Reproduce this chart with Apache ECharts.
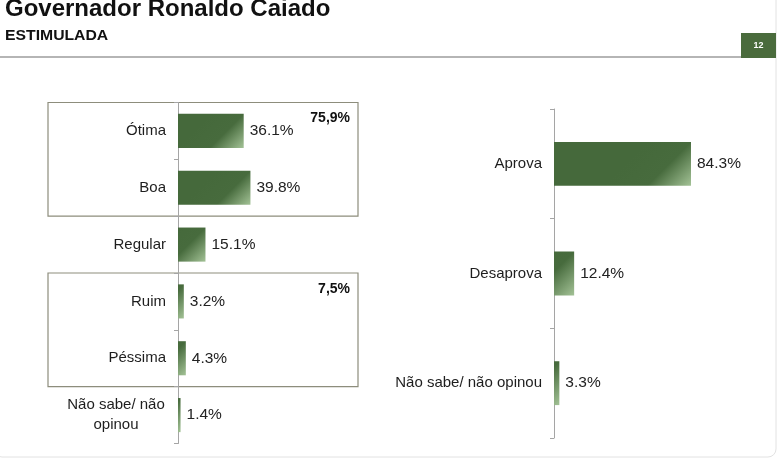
<!DOCTYPE html>
<html><head><meta charset="utf-8">
<script src="https://cdn.jsdelivr.net/npm/echarts@6/dist/echarts.min.js"></script>
<style>html,body{margin:0;padding:0;background:#fff}#c{width:779px;height:463px}</style>
</head><body><div id="c"></div>
<script>
// ---- data ----
var titleText = 'Governador Ronaldo Caiado';
var subtitleText = 'ESTIMULADA';
var pageNumber = '12';
var leftCategories = ['Ótima', 'Boa', 'Regular', 'Ruim', 'Péssima', 'Não sabe/ não\nopinou'];
var leftValues = [36.1, 39.8, 15.1, 3.2, 4.3, 1.4];
var rightCategories = ['Aprova', 'Desaprova', 'Não sabe/ não opinou'];
var rightValues = [84.3, 12.4, 3.3];
var groupRanges = [[0, 1], [3, 4]];
var groupLabels = ['75,9%', '7,5%'];

// ---- layout ----
var L = {left: 178, top: 102.5, height: 341, width: 182, gap: 0.4};
var R = {left: 554, top: 109, height: 329, width: 162.5, gap: 0.6};
var FONT = '"Liberation Sans", Arial, sans-serif';

// 45-degree (pixel space) gradient lighting the bottom-right corner of each bar
function barColor(v, G, n) {
  var w = Math.max(v / 100 * G.width, 1);
  var h = G.height / n * (1 - G.gap);
  var k = h / w;
  return new echarts.graphic.LinearGradient(1 - k, 0, 1, 1, [
    {offset: 0, color: '#45693b'},
    {offset: 0.5, color: '#476b3d'},
    {offset: 1, color: '#a3c296'}
  ]);
}

function catAxis(idx, cats) {
  return {
    type: 'category', gridIndex: idx, data: cats, inverse: true,
    axisLine: {show: true, lineStyle: {color: '#a5a5a5', width: 1}},
    axisTick: {show: true, length: 4, lineStyle: {color: '#a5a5a5'}},
    axisLabel: {
      margin: 12, fontSize: 15, color: '#1e1e1e', fontFamily: FONT, lineHeight: 20,
      formatter: function (v) {
        if (v.indexOf('\n') >= 0) {
          return v.split('\n').map(function (s) { return '{c|' + s + '}'; }).join('\n');
        }
        return v;
      },
      rich: {c: {width: 100, align: 'center', fontSize: 15, color: '#1e1e1e', fontFamily: FONT, lineHeight: 20}}
    }
  };
}
function valAxis(idx) {
  return {
    type: 'value', gridIndex: idx, min: 0, max: 100,
    show: false, splitLine: {show: false}
  };
}
function barSeries(idx, vals, G, n) {
  return {
    type: 'bar', xAxisIndex: idx, yAxisIndex: idx,
    data: vals.map(function (v) { return {value: v, itemStyle: {color: barColor(v, G, n)}}; }),
    barCategoryGap: (G.gap * 100) + '%',
    label: {
      show: true, position: 'right', distance: 6, fontSize: 15.5, color: '#222',
      fontFamily: FONT,
      formatter: function (p) { return p.value.toFixed(1) + '%'; }
    },
    silent: true
  };
}

var chart = echarts.init(document.getElementById('c'), null, {renderer: 'canvas'});

var graphics = [
  {type: 'rect', shape: {x: -6, y: -10, width: 782, height: 467, r: 8},
   style: {fill: 'none', stroke: '#e2e2e2', lineWidth: 1}, silent: true},
  {type: 'text', x: 5, y: 9, style: {text: titleText, font: 'bold 24px ' + FONT, fill: '#111', textVerticalAlign: 'middle'}},
  {type: 'text', x: 5, y: 35.5, scaleX: 1.05, style: {text: subtitleText, font: 'bold 15px ' + FONT, fill: '#111', textVerticalAlign: 'middle'}},
  {type: 'rect', shape: {x: 0, y: 56, width: 741, height: 2}, style: {fill: '#b5b5b5'}},
  {type: 'rect', shape: {x: 741, y: 33, width: 35, height: 25}, style: {fill: '#4a6b3c'}},
  {type: 'text', x: 758.5, y: 45.5, style: {text: pageNumber, font: 'bold 9px ' + FONT, fill: '#fff', textAlign: 'center', textVerticalAlign: 'middle'}}
];
var band = L.height / leftCategories.length;
groupRanges.forEach(function (g, i) {
  var y0 = L.top + g[0] * band;
  var y1 = L.top + (g[1] + 1) * band;
  graphics.push({type: 'rect', shape: {x: 48, y: y0, width: 310, height: y1 - y0},
    style: {fill: 'none', stroke: '#8d8d7c', lineWidth: 1.2}, silent: true});
  graphics.push({type: 'text', x: 350, y: y0 + 16, style: {text: groupLabels[i], font: 'bold 14px ' + FONT, fill: '#111', textAlign: 'right', textVerticalAlign: 'middle'}});
});

chart.setOption({
  backgroundColor: '#fff',
  animation: false,
  grid: [
    {left: L.left, top: L.top, width: L.width, height: L.height, containLabel: false},
    {left: R.left, top: R.top, width: R.width, height: R.height, containLabel: false}
  ],
  xAxis: [valAxis(0), valAxis(1)],
  yAxis: [catAxis(0, leftCategories), catAxis(1, rightCategories)],
  series: [barSeries(0, leftValues, L, leftCategories.length), barSeries(1, rightValues, R, rightCategories.length)],
  graphic: graphics
});
</script>
</body></html>
